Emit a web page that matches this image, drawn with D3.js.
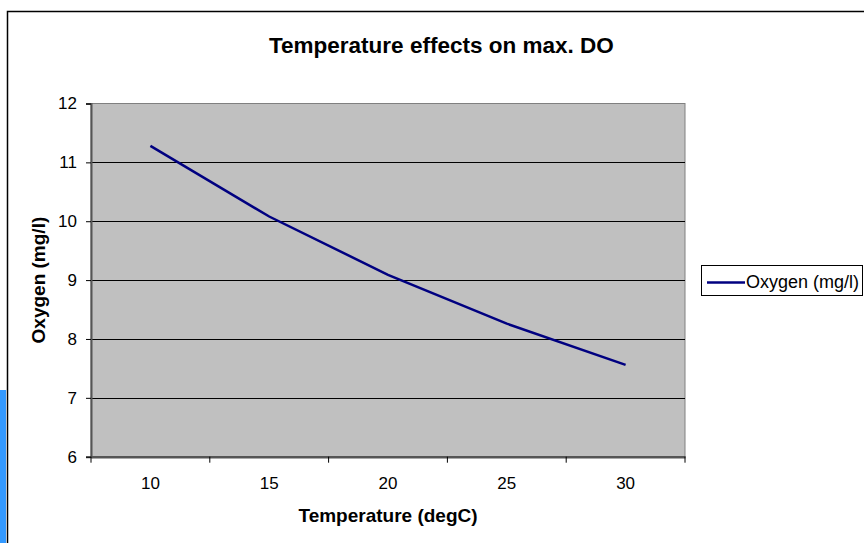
<!DOCTYPE html>
<html>
<head>
<meta charset="utf-8">
<script src="https://cdn.jsdelivr.net/npm/d3@7"></script>
<style>
  body { margin: 0; background: #fff; }
  svg { display: block; font-family: "Liberation Sans", Arial, sans-serif; }
</style>
</head>
<body>
<div id="chart"></div>
<script>
// data
const temps = [10, 15, 20, 25, 30];
const oxygen = [11.28, 10.08, 9.09, 8.26, 7.56];
const yTicks = [6, 7, 8, 9, 10, 11, 12];
const seriesName = "Oxygen (mg/l)";

const W = 864, H = 543;
const plot = { left: 91, top: 103.5, right: 685, bottom: 456.7 };

const svg = d3.select("#chart").append("svg")
  .attr("width", W).attr("height", H);

// blue strip on left edge
svg.append("rect").attr("x", 0).attr("y", 390).attr("width", 6).attr("height", H - 390)
  .attr("fill", "#3399ff");

// chart area border
svg.append("rect").attr("x", 7.5).attr("y", 11.5).attr("width", W + 20).attr("height", H + 20)
  .attr("fill", "#fff").attr("stroke", "#000").attr("stroke-width", 1.5);

const x = d3.scaleBand().domain(temps).range([plot.left, plot.right]).paddingInner(0).paddingOuter(0);
const y = d3.scaleLinear().domain([6, 12]).range([plot.bottom, plot.top]);

// plot background
svg.append("rect")
  .attr("x", plot.left).attr("y", plot.top)
  .attr("width", plot.right - plot.left).attr("height", plot.bottom - plot.top)
  .attr("fill", "#c0c0c0").attr("stroke", "#808080").attr("stroke-width", 1);

// gridlines
svg.append("g").selectAll("line")
  .data(yTicks.filter(d => d > 6 && d < 12))
  .join("line")
  .attr("x1", plot.left).attr("x2", plot.right)
  .attr("y1", d => Math.round(y(d)) + 0.5).attr("y2", d => Math.round(y(d)) + 0.5)
  .attr("stroke", "#000").attr("stroke-width", 1);

// y axis
const yAxis = svg.append("g")
  .attr("transform", `translate(${plot.left},0)`)
  .call(d3.axisLeft(y).tickValues(yTicks).tickSize(5).tickPadding(9).tickFormat(d3.format("d")));
yAxis.select(".domain").attr("stroke", "#555").attr("stroke-width", 2);
yAxis.selectAll(".tick line").attr("stroke", "#000");
yAxis.selectAll("text").attr("font-size", 17).attr("fill", "#000")
  .attr("font-family", "Liberation Sans, Arial, sans-serif");

// x axis: labels at category centres, ticks on the boundaries
const xAxis = svg.append("g")
  .attr("transform", `translate(0,${plot.bottom})`)
  .call(d3.axisBottom(x).tickSize(0).tickPadding(20));
xAxis.select(".domain").attr("stroke", "#555").attr("stroke-width", 2.5);
xAxis.selectAll("text").attr("font-size", 17).attr("fill", "#000")
  .attr("font-family", "Liberation Sans, Arial, sans-serif");
const bounds = temps.map(d => x(d)).concat([x.range()[1]]);
xAxis.selectAll(".bound")
  .data(bounds)
  .join("line")
  .attr("class", "bound")
  .attr("x1", d => d).attr("x2", d => d)
  .attr("y1", 0).attr("y2", 6)
  .attr("stroke", "#000");

// series line
const line = d3.line()
  .x((d, i) => x(temps[i]) + x.bandwidth() / 2)
  .y(d => y(d));
svg.append("path")
  .datum(oxygen)
  .attr("d", line)
  .attr("fill", "none")
  .attr("stroke", "#000080")
  .attr("stroke-width", 2.5);

// title
svg.append("text")
  .attr("x", 269).attr("y", 53)
  .attr("font-size", 22.5).attr("font-weight", "bold")
  .text("Temperature effects on max. DO");

// axis titles
svg.append("text")
  .attr("x", (plot.left + plot.right) / 2).attr("y", 522)
  .attr("text-anchor", "middle")
  .attr("font-size", 19).attr("font-weight", "bold")
  .text("Temperature (degC)");

svg.append("text")
  .attr("transform", `translate(45,${(plot.top + plot.bottom) / 2}) rotate(-90)`)
  .attr("text-anchor", "middle")
  .attr("font-size", 19).attr("font-weight", "bold")
  .text("Oxygen (mg/l)");

// legend
const legend = svg.append("g");
legend.append("rect")
  .attr("x", 701.5).attr("y", 265.5).attr("width", 161).attr("height", 30)
  .attr("fill", "#fff").attr("stroke", "#000").attr("stroke-width", 1);
legend.append("line")
  .attr("x1", 707).attr("x2", 745).attr("y1", 282.5).attr("y2", 282.5)
  .attr("stroke", "#000080").attr("stroke-width", 2.5);
legend.append("text")
  .attr("x", 746).attr("y", 288)
  .attr("font-size", 18)
  .text(seriesName);
</script>
</body>
</html>
